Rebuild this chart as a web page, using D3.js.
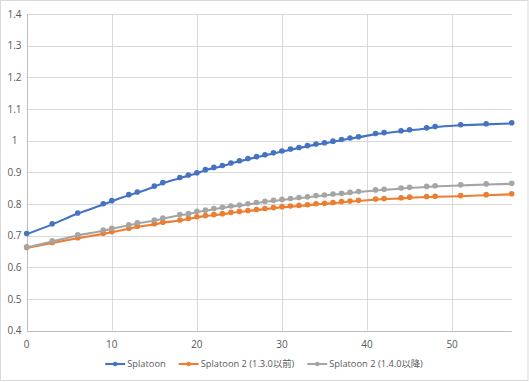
<!DOCTYPE html>
<html><head><meta charset="utf-8">
<script src="https://cdn.jsdelivr.net/npm/d3@7"></script>
<style>
html,body{margin:0;padding:0;background:#fff;}
svg text{font-family:"Open Sans","Noto Sans","Noto Sans CJK JP",sans-serif;fill:#595959;}
</style></head>
<body><svg id="c" width="529" height="382"></svg>
<script>
const xValues = [0,3,6,9,10,12,13,15,16,18,19,20,21,22,23,24,25,26,27,28,29,30,31,32,33,34,35,36,37,38,39,41,42,44,45,47,48,51,54,57];
const splatoon = [0.705,0.736,0.770,0.799,0.809,0.828,0.836,0.855,0.866,0.882,0.890,0.897,0.907,0.914,0.920,0.928,0.935,0.942,0.948,0.954,0.960,0.966,0.972,0.977,0.983,0.988,0.992,0.997,1.002,1.007,1.011,1.021,1.024,1.030,1.033,1.039,1.043,1.049,1.052,1.055];
const splatoon2Before = [0.661,0.677,0.692,0.706,0.711,0.722,0.728,0.736,0.741,0.748,0.753,0.758,0.762,0.765,0.768,0.772,0.775,0.778,0.781,0.784,0.787,0.790,0.792,0.794,0.796,0.799,0.801,0.803,0.806,0.808,0.810,0.814,0.816,0.818,0.820,0.822,0.823,0.825,0.828,0.831];
const splatoon2After = [0.663,0.682,0.701,0.716,0.722,0.733,0.739,0.748,0.754,0.765,0.768,0.775,0.779,0.784,0.788,0.792,0.795,0.799,0.803,0.807,0.810,0.813,0.816,0.819,0.821,0.825,0.827,0.830,0.832,0.835,0.838,0.843,0.845,0.849,0.851,0.854,0.856,0.859,0.862,0.864];
const seriesNames = ["Splatoon","Splatoon 2 (1.3.0以前)","Splatoon 2 (1.4.0以降)"];
const seriesColors = ["#4472C4","#ED7D31","#A5A5A5"];
const xTicks = [0,10,20,30,40,50];
const yTicks = [0.4,0.5,0.6,0.7,0.8,0.9,1.0,1.1,1.2,1.3,1.4];
const xDomain = [0,57];
const yDomain = [0.4,1.4];

const svg = d3.select("#c");
svg.append("rect").attr("x",0.5).attr("y",0.5).attr("width",527.5).attr("height",380)
  .attr("fill","#fff").attr("stroke","#D9D9D9");

const L=26.7, R=511.7, T=14.2, B=330.7;
const x = d3.scaleLinear().domain(xDomain).range([L,R]);
const y = d3.scaleLinear().domain(yDomain).range([B,T]);

// grid
svg.append("g").selectAll("line").data(yTicks.filter(d=>d>0.4)).join("line")
  .attr("x1",L).attr("x2",R).attr("y1",d=>Math.round(y(d))+0.5).attr("y2",d=>Math.round(y(d))+0.5)
  .attr("stroke","#D9D9D9").attr("stroke-width",1);
svg.append("g").selectAll("line").data(xTicks.filter(d=>d>0)).join("line")
  .attr("y1",T).attr("y2",B).attr("x1",d=>Math.round(x(d))+0.5).attr("x2",d=>Math.round(x(d))+0.5)
  .attr("stroke","#D9D9D9").attr("stroke-width",1);
// axes lines
svg.append("line").attr("x1",L).attr("x2",R).attr("y1",Math.round(B)+0.5).attr("y2",Math.round(B)+0.5).attr("stroke","#BFBFBF");
svg.append("line").attr("x1",Math.round(L)+0.5).attr("x2",Math.round(L)+0.5).attr("y1",T).attr("y2",B).attr("stroke","#BFBFBF");

// tick labels
const fmt = d => (Math.abs(d-1)<1e-9) ? "1" : d3.format(".1f")(d);
svg.append("g").selectAll("text").data(yTicks).join("text")
  .attr("x",14.5).attr("y",d=>y(d)).attr("dy","0.35em").attr("text-anchor","middle")
  .attr("font-size","10px").text(fmt);
svg.append("g").selectAll("text").data(xTicks).join("text")
  .attr("x",d=>x(d)).attr("y",344).attr("dy","0.35em").attr("text-anchor","middle")
  .attr("font-size","10px").text(d=>d);

// series
const allSeries = [splatoon, splatoon2Before, splatoon2After];
const line = d3.line().x(d=>x(d[0])).y(d=>y(d[1])).curve(d3.curveMonotoneX);
allSeries.forEach((vals,i)=>{
  const pts = xValues.map((xv,j)=>[xv,vals[j]]);
  const g = svg.append("g");
  g.append("path").datum(pts).attr("d",line).attr("fill","none")
    .attr("stroke",seriesColors[i]).attr("stroke-width",2.1).attr("stroke-linecap","round");
  g.selectAll("circle").data(pts).join("circle")
    .attr("cx",d=>x(d[0])).attr("cy",d=>y(d[1])-0.6).attr("r",2.8).attr("fill",seriesColors[i]);
});

// legend
const lg = svg.append("g");
let cx = 0;
seriesNames.forEach((n,i)=>{
  const g = lg.append("g");
  g.append("line").attr("x1",0).attr("x2",20).attr("y1",0).attr("y2",0).attr("stroke",seriesColors[i]).attr("stroke-width",2.1);
  g.append("circle").attr("cx",10).attr("cy",0).attr("r",2.3).attr("fill",seriesColors[i]);
  const t = g.append("text").attr("x",22).attr("y",0).attr("dy","0.35em").attr("font-size","9.3px").text(n);
  const w = 22 + t.node().getComputedTextLength();
  g.attr("transform",`translate(${cx},364)`);
  cx += w + 13;
});
const total = cx - 13;
lg.attr("transform",`translate(${(528-total)/2},0)`);
</script></body></html>
